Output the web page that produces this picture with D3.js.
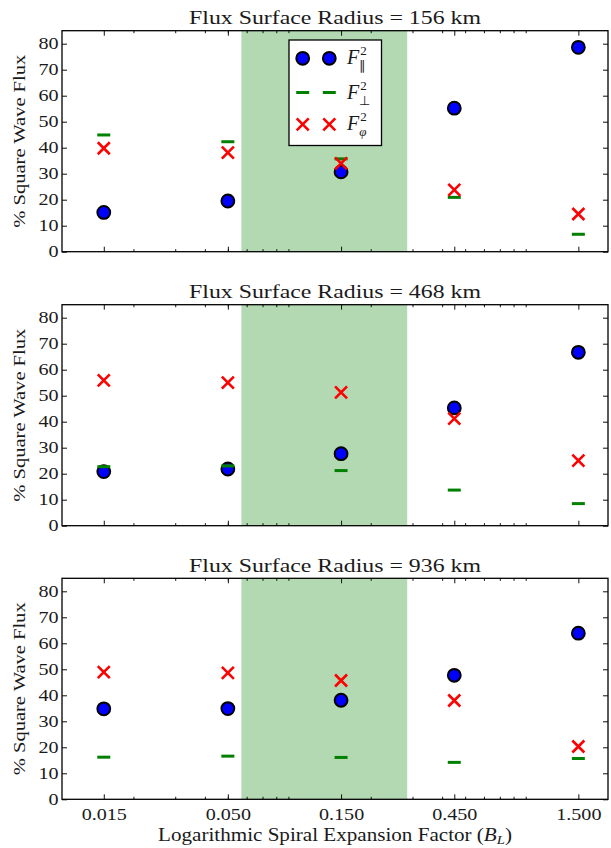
<!DOCTYPE html>
<html>
<head>
<meta charset="utf-8">
<script src="https://cdn.jsdelivr.net/npm/d3@7"></script>
<style>
  html, body { margin: 0; padding: 0; background: #fff; }
  svg { display: block; }
  text { font-family: "Liberation Serif", "Times New Roman", serif; fill: #1a1a1a; }
</style>
</head>
<body>
<svg id="chart" width="611" height="848"></svg>
<script>
// Expansion factors (x positions) and their printed labels
const expansion = [0.015, 0.05, 0.15, 0.45, 1.5];
const expansionLabels = ["0.015", "0.050", "0.150", "0.450", "1.500"];

// Flux surface radius of each panel (km)
const radiiKm = [156, 468, 936];

// Percent of square-wave flux carried by each component, one row per panel
const fParallel = [
  [15.1, 19.5, 30.7, 55.2, 78.6],
  [20.8, 21.8, 27.7, 45.3, 66.7],
  [34.8, 34.9, 38.1, 47.7, 63.9]
];
const fPerp = [
  [44.9, 42.3, 35.7, 20.9, 6.7],
  [22.7, 23.0, 21.2, 13.7, 8.5],
  [16.2, 16.6, 16.1, 14.2, 15.7]
];
const fPhi = [
  [39.8, 38.1, 34.0, 23.8, 14.5],
  [55.9, 55.0, 51.3, 41.2, 25.0],
  [48.9, 48.6, 45.7, 38.0, 20.3]
];

// Shaded band of expansion factors
const bandRange = [0.057, 0.285];

const yTicks = [0, 10, 20, 30, 40, 50, 60, 70, 80];
const xDomain = [0.01, 2];
const yDomain = [0, 85];

const svg = d3.select("#chart");

const plotLeft = 62, plotRight = 608;
const panelHeight = 221;
const panelTops = [30.7, 304.7, 578.3];

const x = d3.scaleLog().domain(xDomain).range([plotLeft, plotRight]);

// minor ticks at 2..9 x 10^k inside the domain
const minorTicks = [];
for (let e = -2; e <= 0; e++) {
  for (let m = 2; m <= 9; m++) {
    const v = m * Math.pow(10, e);
    if (v > xDomain[0] && v < xDomain[1]) minorTicks.push(v);
  }
}

const stretch = 1.22;

// widen tick labels horizontally about their anchor point
function stretchTicks(sel) {
  sel.selectAll(".tick text").each(function () {
    const t = d3.select(this);
    const xx = +t.attr("x") || 0;
    const yy = +t.attr("y") || 0;
    t.attr("x", 0).attr("y", 0)
     .attr("transform", `translate(${xx},${yy}) scale(${stretch},1)`);
  });
}

function widthScale(node, target) {
  return target / node.getComputedTextLength();
}

panelTops.forEach((top, p) => {
  const bottom = top + panelHeight;
  const y = d3.scaleLinear().domain(yDomain).range([bottom, top]);
  const g = svg.append("g");

  // shaded band
  g.append("rect")
    .attr("x", x(bandRange[0]))
    .attr("y", top)
    .attr("width", x(bandRange[1]) - x(bandRange[0]))
    .attr("height", panelHeight)
    .attr("fill", "green")
    .attr("fill-opacity", 0.3);

  // axes with inward ticks
  const isLast = p === panelTops.length - 1;
  const bottomAxis = d3.axisBottom(x).tickValues(expansion)
    .tickFormat((d, i) => isLast ? expansionLabels[i] : "")
    .tickSize(-5).tickPadding(9);
  const gb = g.append("g").attr("transform", `translate(0,${bottom})`).call(bottomAxis);
  gb.selectAll(".tick text").attr("font-size", 16.5);
  stretchTicks(gb);
  g.append("g").attr("transform", `translate(0,${bottom})`)
    .call(d3.axisBottom(x).tickValues(minorTicks).tickFormat("").tickSize(-2.5));
  g.append("g").attr("transform", `translate(0,${top})`)
    .call(d3.axisTop(x).tickValues(expansion).tickFormat("").tickSize(-5));
  g.append("g").attr("transform", `translate(0,${top})`)
    .call(d3.axisTop(x).tickValues(minorTicks).tickFormat("").tickSize(-2.5));

  const gl = g.append("g").attr("transform", `translate(${plotLeft},0)`)
    .call(d3.axisLeft(y).tickValues(yTicks).tickFormat(d3.format("d")).tickSize(-5).tickPadding(3.5));
  gl.selectAll(".tick text").attr("font-size", 16.5);
  stretchTicks(gl);
  g.append("g").attr("transform", `translate(${plotRight},0)`)
    .call(d3.axisRight(y).tickValues(yTicks).tickFormat("").tickSize(-5));

  g.selectAll(".domain").remove();
  g.selectAll(".tick line").attr("stroke", "#111").attr("stroke-width", 1);

  // frame
  g.append("rect")
    .attr("x", plotLeft).attr("y", top)
    .attr("width", plotRight - plotLeft).attr("height", panelHeight)
    .attr("fill", "none").attr("stroke", "#000").attr("stroke-width", 1.3);

  // parallel component: blue circles
  g.append("g").selectAll("circle")
    .data(fParallel[p])
    .join("circle")
    .attr("cx", (d, i) => x(expansion[i]))
    .attr("cy", d => y(d))
    .attr("r", 6.4)
    .attr("fill", "#0000ff")
    .attr("stroke", "#000")
    .attr("stroke-width", 2);

  // perpendicular component: green dashes
  g.append("g").selectAll("line")
    .data(fPerp[p])
    .join("line")
    .attr("x1", (d, i) => x(expansion[i]) - 6.5)
    .attr("x2", (d, i) => x(expansion[i]) + 6.5)
    .attr("y1", d => y(d))
    .attr("y2", d => y(d))
    .attr("stroke", "green")
    .attr("stroke-width", 3);

  // azimuthal component: red crosses
  g.append("g").selectAll("path")
    .data(fPhi[p])
    .join("path")
    .attr("d", (d, i) => {
      const cx = x(expansion[i]), cy = y(d), s = 6;
      return `M${cx - s},${cy - s}L${cx + s},${cy + s}M${cx - s},${cy + s}L${cx + s},${cy - s}`;
    })
    .attr("stroke", "red")
    .attr("stroke-width", 2.6)
    .attr("fill", "none");

  // title
  const title = svg.append("text")
    .attr("text-anchor", "middle")
    .attr("font-size", 19)
    .text(`Flux Surface Radius = ${radiiKm[p]} km`);
  const kt = widthScale(title.node(), 292);
  title.attr("transform", `translate(${(plotLeft + plotRight) / 2},${top - 6.5}) scale(${kt},1)`);

  // y label
  const yl = svg.append("text")
    .attr("text-anchor", "middle")
    .attr("font-size", 17.5)
    .text("% Square Wave Flux");
  const ky = widthScale(yl.node(), 173);
  yl.attr("transform", `translate(25,${(top + bottom) / 2}) rotate(-90) scale(${ky},1)`);

  // legend in the first panel
  if (p === 0) {
    const lg = g.append("g");
    lg.append("rect")
      .attr("x", 289).attr("y", 40).attr("width", 92.5).attr("height", 105.5)
      .attr("fill", "#fff").attr("stroke", "#000").attr("stroke-width", 1.3);
    const rows = [
      { kind: "par", y: 58.3, sub: "\u2225" },
      { kind: "perp", y: 92.5, sub: "\u22A5" },
      { kind: "phi", y: 124.3, sub: "\u03C6" }
    ];
    const mx = [302.7, 329.3];
    rows.forEach(r => {
      mx.forEach(cx => {
        if (r.kind === "par") {
          lg.append("circle").attr("cx", cx).attr("cy", r.y).attr("r", 6.4)
            .attr("fill", "#0000ff").attr("stroke", "#000").attr("stroke-width", 2);
        } else if (r.kind === "perp") {
          lg.append("line").attr("x1", cx - 6.5).attr("x2", cx + 6.5)
            .attr("y1", r.y).attr("y2", r.y).attr("stroke", "green").attr("stroke-width", 3);
        } else {
          const s = 6;
          lg.append("path")
            .attr("d", `M${cx - s},${r.y - s}L${cx + s},${r.y + s}M${cx - s},${r.y + s}L${cx + s},${r.y - s}`)
            .attr("stroke", "red").attr("stroke-width", 2.6).attr("fill", "none");
        }
      });
      const t = lg.append("text").attr("x", 347).attr("y", r.y + 6).attr("font-size", 20);
      t.append("tspan").attr("font-style", "italic").text("F");
      t.append("tspan").attr("font-size", 13).attr("dy", -9).attr("dx", 1).text("2");
      t.append("tspan").attr("font-size", 13).attr("dy", 15).attr("dx", -7.5)
        .attr("font-style", r.kind === "phi" ? "italic" : "normal").text(r.sub);
    });
  }
});

// x axis label
const xl = svg.append("text")
  .attr("text-anchor", "middle")
  .attr("font-size", 18);
xl.append("tspan").text("Logarithmic Spiral Expansion Factor (");
xl.append("tspan").attr("font-style", "italic").text("B");
xl.append("tspan").attr("font-size", 12.5).attr("font-style", "italic").attr("dy", 3).text("L");
xl.append("tspan").attr("dy", -3).text(")");
const kx = 354 / xl.node().getComputedTextLength();
xl.attr("transform", `translate(${(plotLeft + plotRight) / 2},841) scale(${kx},1)`);
</script>
</body>
</html>
